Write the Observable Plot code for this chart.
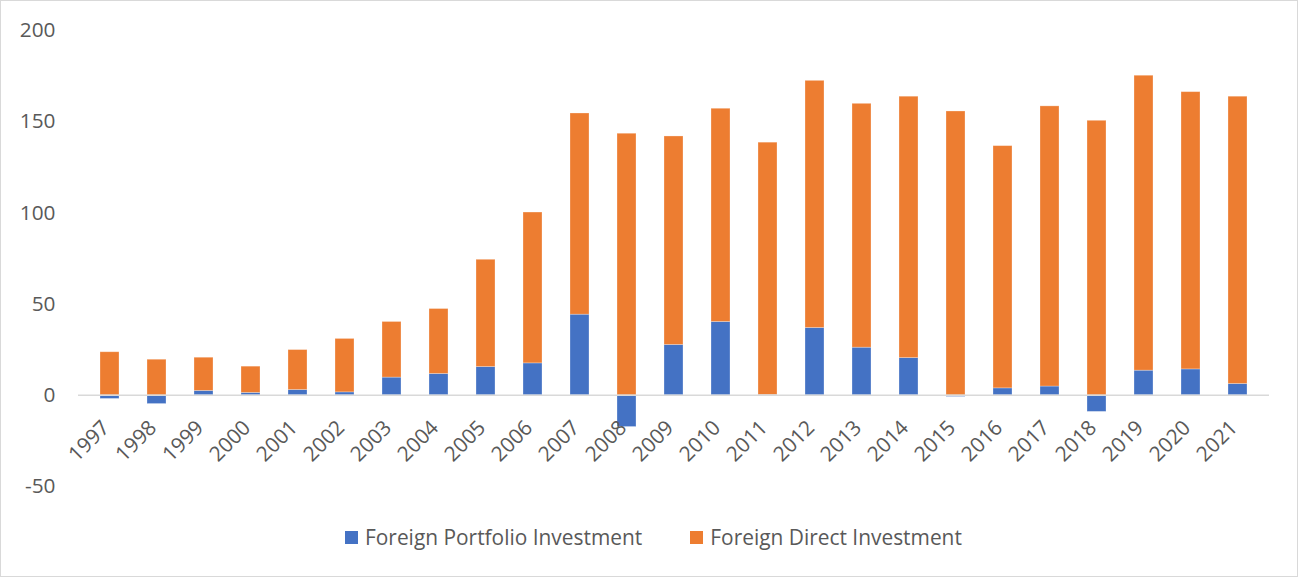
<!DOCTYPE html>
<html>
<head>
<meta charset="utf-8">
<script src="https://cdn.jsdelivr.net/npm/d3@7"></script>
<script src="https://cdn.jsdelivr.net/npm/@observablehq/plot@0.6"></script>
<style>
  html, body { margin: 0; padding: 0; background: #fff; }
  #wrap { position: relative; width: 1298px; height: 577px; overflow: hidden; font-family: "Open Sans", sans-serif; }
  #border { position: absolute; left: 0; top: 0; width: 1298px; height: 577px; box-sizing: border-box; border: 1px solid #d9d9d9; pointer-events: none; }
  #legend { height: 72px; display: flex; align-items: center; padding-left: 345px; padding-bottom: 8px; box-sizing: border-box; color: #595959; font-size: 20.9px; white-space: nowrap; }
  .item { display: flex; align-items: center; margin-right: 48px; }
  .sw { width: 13px; height: 13px; margin-right: 7px; }
</style>
</head>
<body>
<div id="wrap">
  <div id="chart"></div>
  <div id="legend"></div>
  <div id="border"></div>
</div>
<script>
const years = ["1997","1998","1999","2000","2001","2002","2003","2004","2005","2006","2007","2008","2009","2010","2011","2012","2013","2014","2015","2016","2017","2018","2019","2020","2021"];
const seriesNames = ["Foreign Portfolio Investment", "Foreign Direct Investment"];
const seriesColors = ["#4472C4", "#ED7D31"];
const fpi = [-2.0, -4.8, 2.4, 1.3, 2.9, 1.6, 9.7, 11.7, 15.5, 17.5, 44.2, -17.4, 27.6, 40.2, 0.2, 36.9, 26.1, 20.4, -0.9, 3.8, 4.8, -9.1, 13.5, 14.2, 6.2];
const fdi = [23.6, 19.5, 18.2, 14.4, 21.9, 29.3, 30.5, 35.6, 58.8, 82.7, 110.3, 143.4, 114.3, 116.9, 138.3, 135.5, 133.7, 143.3, 155.6, 132.8, 153.6, 150.5, 161.7, 152.0, 157.5];
const yTicks = [-50, 0, 50, 100, 150, 200];

const rows = [];
years.forEach((y, i) => rows.push({year: y, series: seriesNames[0], value: fpi[i]}));
years.forEach((y, i) => rows.push({year: y, series: seriesNames[1], value: fdi[i]}));

const FS = 20.8;
const chart = Plot.plot({
  width: 1298,
  height: 505,
  marginLeft: 78,
  marginRight: 29,
  marginTop: 30,
  marginBottom: 19,
  style: {fontFamily: "'Open Sans', sans-serif", fontSize: FS + "px", color: "#595959", background: "transparent"},
  x: {type: "band", domain: years, paddingInner: 0.6, paddingOuter: 0.3, axis: null},
  y: {domain: [-50, 200], axis: null},
  color: {domain: seriesNames, range: seriesColors},
  marks: [
    Plot.axisY({ticks: yTicks, tickFormat: d => String(d), tickSize: 0, tickPadding: 23, fontSize: FS, fill: "#595959", label: null}),
    Plot.barY(rows, Plot.stackY({x: "year", y: "value", fill: "series", z: "series", order: seriesNames, stroke: "#ffffff", strokeOpacity: 0.35, strokeWidth: 0.8})),
    Plot.ruleY([0], {stroke: "#d9d9d9", strokeWidth: 1.5}),
    Plot.text(years, {x: d => d, y: () => 0, text: d => d, rotate: -45, textAnchor: "end", lineAnchor: "middle", dy: 29, dx: -4, fill: "#595959", fontSize: FS})
  ]
});
document.getElementById("chart").appendChild(chart);

const legend = document.getElementById("legend");
seriesNames.forEach((name, i) => {
  const item = document.createElement("div");
  item.className = "item";
  const sw = document.createElement("div");
  sw.className = "sw";
  sw.style.background = seriesColors[i];
  const label = document.createElement("span");
  label.textContent = name;
  item.appendChild(sw);
  item.appendChild(label);
  legend.appendChild(item);
});
</script>
</body>
</html>
